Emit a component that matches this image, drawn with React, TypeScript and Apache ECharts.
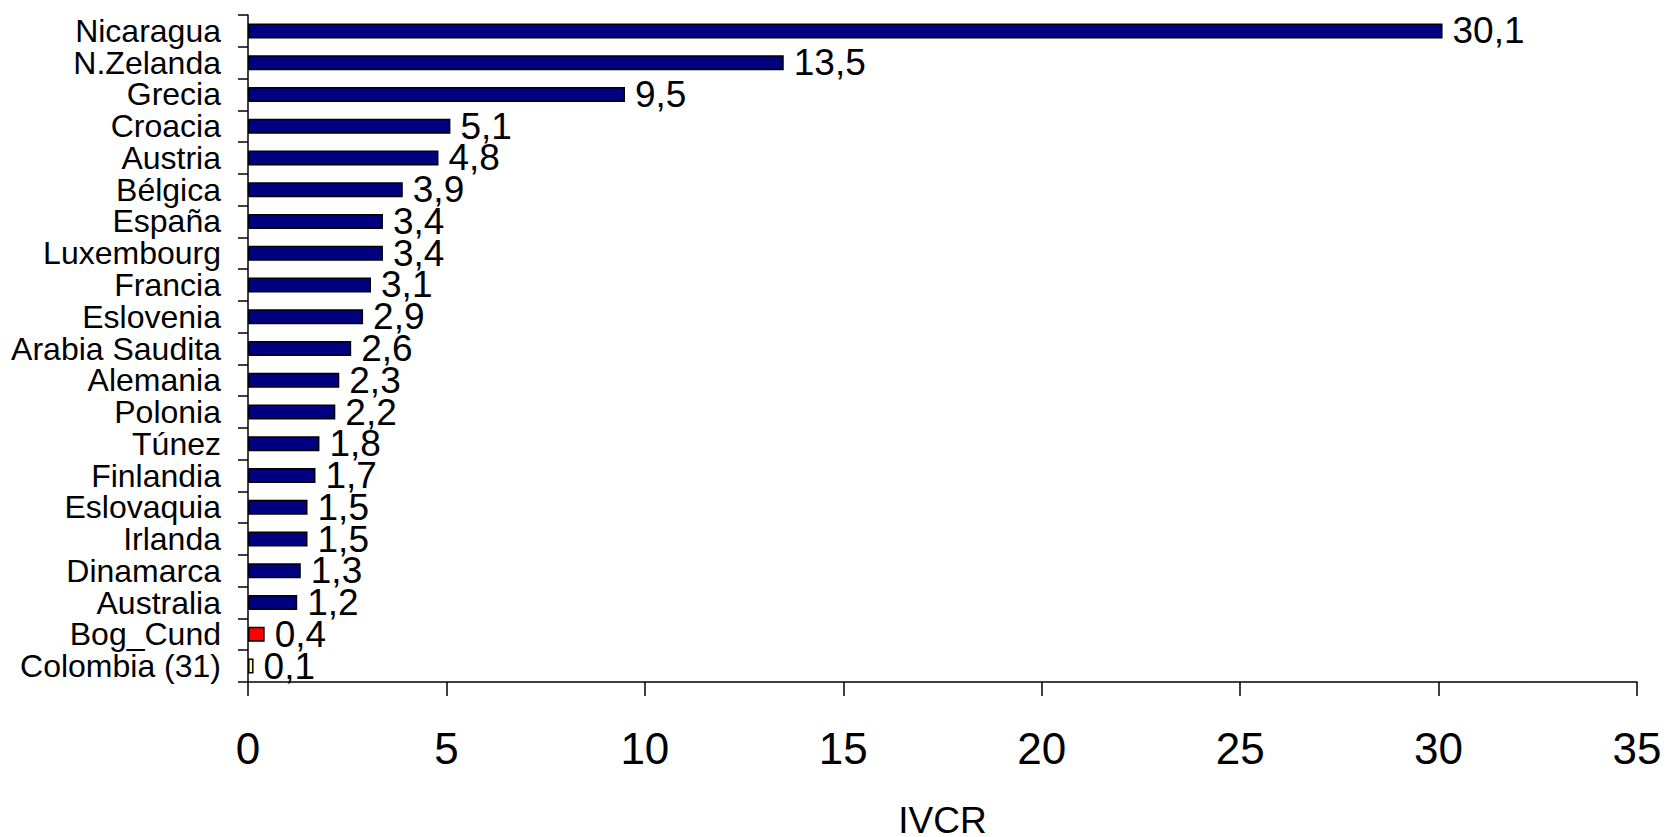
import React, { useEffect, useRef } from "react";
import * as echarts from "echarts";

const categories = [
  "Nicaragua", "N.Zelanda", "Grecia", "Croacia", "Austria", "Bélgica", "España",
  "Luxembourg", "Francia", "Eslovenia", "Arabia Saudita", "Alemania", "Polonia",
  "Túnez", "Finlandia", "Eslovaquia", "Irlanda", "Dinamarca", "Australia",
  "Bog_Cund", "Colombia (31)",
];
const values = [
  30.1, 13.5, 9.5, 5.1, 4.8, 3.9, 3.4, 3.4, 3.1, 2.9, 2.6, 2.3, 2.2, 1.8, 1.7,
  1.5, 1.5, 1.33, 1.24, 0.42, 0.14,
];
const barColors = [
  "#000080", "#000080", "#000080", "#000080", "#000080", "#000080", "#000080",
  "#000080", "#000080", "#000080", "#000080", "#000080", "#000080", "#000080",
  "#000080", "#000080", "#000080", "#000080", "#000080", "#FF0000", "#FFFF99",
];
const xTicks = { min: 0, max: 35, interval: 5 };
const axisName = "IVCR";

const FONT = "'Liberation Sans', Arial, sans-serif";

export default function App() {
  const ref = useRef<HTMLDivElement>(null);
  useEffect(() => {
    document.body.style.margin = "0";
    const chart = echarts.init(ref.current!, undefined, { renderer: "svg" });
    chart.setOption({
      animation: false,
      backgroundColor: "#ffffff",
      grid: {
        left: 248, top: 15, right: 30, bottom: 155,
        containLabel: false, outerBoundsMode: "none",
      },
      xAxis: {
        type: "value",
        min: xTicks.min,
        max: xTicks.max,
        interval: xTicks.interval,
        name: axisName,
        nameLocation: "middle",
        nameGap: 123,
        nameTextStyle: { fontSize: 37, lineHeight: 30, color: "#000", fontFamily: FONT },
        axisLine: { show: true, lineStyle: { color: "#000", width: 1.5 } },
        axisTick: { show: true, length: 14, lineStyle: { color: "#000", width: 1.5 } },
        axisLabel: { fontSize: 44, color: "#000", margin: 44, fontFamily: FONT },
        splitLine: { show: false },
      },
      yAxis: {
        type: "category",
        data: categories,
        inverse: true,
        axisLine: { show: true, lineStyle: { color: "#000", width: 1.5 } },
        axisTick: { show: true, length: 10, lineStyle: { color: "#000", width: 1.5 } },
        axisLabel: { interval: 0, fontSize: 32, color: "#000", margin: 27, fontFamily: FONT },
        splitLine: { show: false },
      },
      series: [
        {
          type: "bar",
          barWidth: 15,
          data: values.map((v, i) => ({
            value: v,
            itemStyle: { color: barColors[i], borderColor: "#000", borderWidth: 1.5 },
          })),
          label: {
            show: true,
            position: "right",
            distance: 10,
            fontSize: 37,
            color: "#000",
            fontFamily: FONT,
            formatter: (p: any) => p.value.toFixed(1).replace(".", ","),
          },
        },
      ],
    });
    return () => chart.dispose();
  }, []);
  return <div ref={ref} style={{ width: 1667, height: 837 }} />;
}
